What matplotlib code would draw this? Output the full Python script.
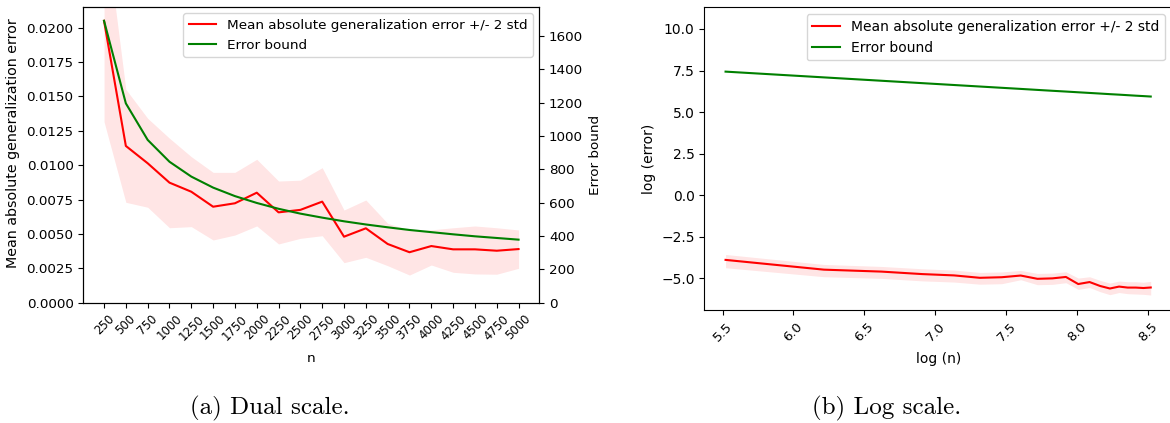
import numpy as np
import matplotlib
matplotlib.use("Agg")
import matplotlib.pyplot as plt

# sample sizes
n = [250, 500, 750, 1000, 1250, 1500, 1750, 2000, 2250, 2500,
     2750, 3000, 3250, 3500, 3750, 4000, 4250, 4500, 4750, 5000]

# mean absolute generalization error and +/- 2 std band
err_mean = [0.0205, 0.0114, 0.01014, 0.00873, 0.00807, 0.00698, 0.00723, 0.0080, 0.00657, 0.00675,
            0.00735, 0.0048, 0.00541, 0.00427, 0.00367, 0.00412, 0.00388, 0.00388, 0.00378, 0.0039]
err_upper = [0.0280, 0.01552, 0.01341, 0.01196, 0.01062, 0.00948, 0.00948, 0.01043, 0.00885, 0.00891,
             0.00982, 0.00674, 0.00747, 0.00577, 0.00529, 0.0053, 0.00545, 0.00558, 0.00545, 0.00529]
err_lower = [0.01316, 0.0073, 0.00694, 0.00545, 0.00553, 0.00456, 0.00492, 0.00558, 0.00427, 0.00468,
             0.00487, 0.00291, 0.0033, 0.00269, 0.00201, 0.00274, 0.00221, 0.00209, 0.00207, 0.0025]

# error bound
bound = [1690, 1195, 976, 845, 756, 690, 639, 598, 563, 534,
         510, 488, 469, 452, 436, 423, 410, 398, 388, 378]

# band of the log panel
log_upper = [-3.56, -4.16, -4.28, -4.42, -4.50, -4.64, -4.61, -4.52, -4.70, -4.68,
             -4.60, -4.98, -4.90, -5.12, -5.28, -5.16, -5.20, -5.20, -5.23, -5.18]
log_lower = [-4.36, -4.90, -5.00, -5.15, -5.22, -5.35, -5.32, -5.08, -5.38, -5.36,
             -5.26, -5.66, -5.55, -5.80, -5.98, -5.85, -5.92, -5.94, -5.96, -6.00]

lab_err = 'Mean absolute generalization error +/- 2 std'
lab_bound = 'Error bound'

fig = plt.figure(figsize=(11.7, 4.23), dpi=100)
W, H = 1170.0, 423.0

# (a) dual scale
fs_a = 9.7
ax1 = fig.add_axes([83.3 / W, 1 - 302.7 / H, (539.3 - 83.3) / W, (302.7 - 6.7) / H])
l1, = ax1.plot(n, err_mean, color='r', lw=1.5, label=lab_err)
ax1.fill_between(n, err_lower, err_upper, color='r', alpha=0.1, lw=0)
ax1.set_ylim(0, max(err_mean) * 1.05)
ax1.set_xticks(n)
ax1.set_xticklabels([str(v) for v in n], rotation=45, fontsize=8.5)
ax1.tick_params(axis='y', labelsize=fs_a)
ax1.set_xlabel('n', fontsize=fs_a, labelpad=7)
ax1.set_ylabel('Mean absolute generalization error', fontsize=10.3)
ax1.yaxis.set_label_coords(-0.139, 0.54)

ax2 = ax1.twinx()
l2, = ax2.plot(n, bound, color='g', lw=1.5, label=lab_bound)
ax2.set_ylim(0, max(bound) * 1.05)
ax2.tick_params(axis='y', labelsize=fs_a)
ax2.set_ylabel('Error bound', fontsize=fs_a)
ax1.legend([l1, l2], [lab_err, lab_bound], loc='upper right', fontsize=fs_a)

# (b) log scale
fs_b = 10
logn = np.log(n)
ax3 = fig.add_axes([704.3 / W, 1 - 310 / H, (1172 - 704.3) / W, (310 - 7.3) / H])
ax3.plot(logn, np.log(err_mean), color='r', lw=1.5, label=lab_err)
ax3.fill_between(logn, log_lower, log_upper, color='r', alpha=0.1, lw=0)
ax3.plot(logn, np.log(bound), color='g', lw=1.5, label=lab_bound)
ax3.set_ylim(-6.9, 11.3)
ax3.tick_params(axis='x', labelrotation=45, labelsize=9.5)
ax3.tick_params(axis='y', labelsize=fs_b)
ax3.set_xlabel('log (n)', fontsize=fs_b, labelpad=6)
ax3.set_ylabel('log (error)', fontsize=fs_b)
ax3.legend(loc='upper right', fontsize=fs_b)

fig.text(270 / W, 1 - 408 / H, '(a) Dual scale.', family='cmr10', fontsize=18,
         ha='center', va='center')
fig.text(887 / W, 1 - 408 / H, '(b) Log scale.', family='cmr10', fontsize=18,
         ha='center', va='center')

fig.savefig('out.png', dpi=100)
